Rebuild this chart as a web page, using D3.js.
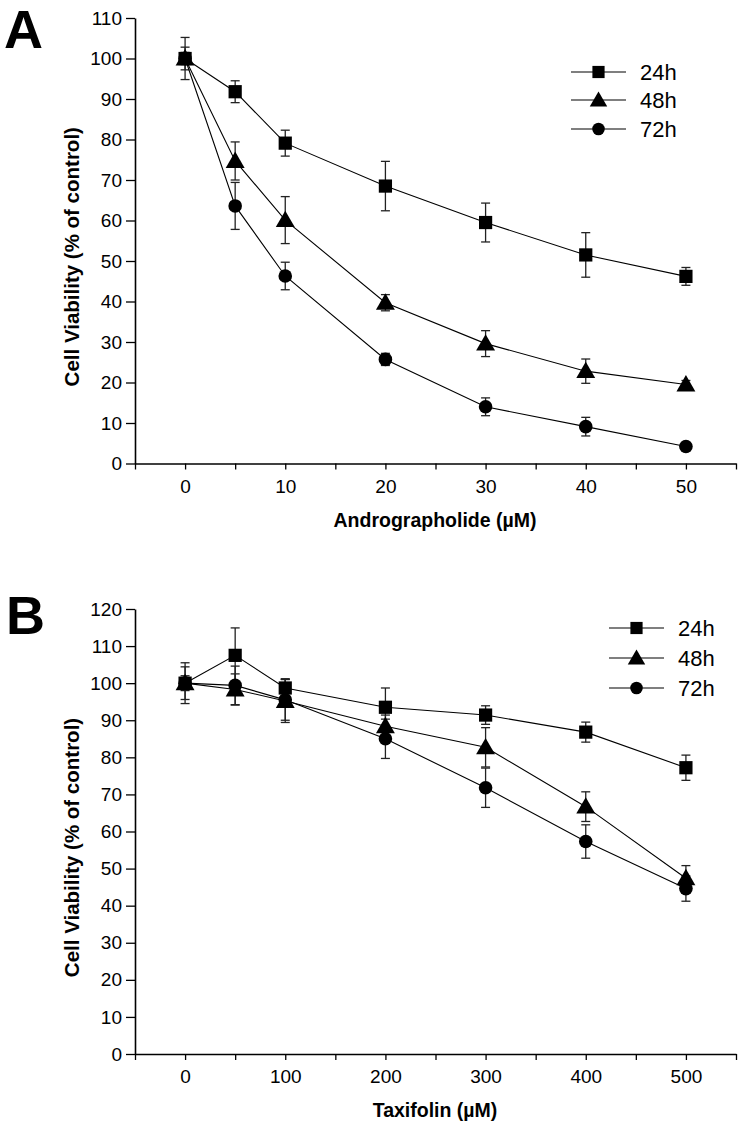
<!DOCTYPE html>
<html><head><meta charset="utf-8">
<script src="https://cdn.jsdelivr.net/npm/d3@7/dist/d3.min.js"></script>
<style>body{margin:0;background:#fff}svg{display:block}text{font-family:"Liberation Sans",Arial,sans-serif}</style>
</head><body><svg id="c" width="739" height="1128"></svg>
<script>
// Panel A: Andrographolide
const dosesA = [0, 5, 10, 20, 30, 40, 50];
const a24 = [100, 91.8, 79.1, 68.5, 59.5, 51.5, 46.2];
const a24err = [2.8, 2.7, 3.2, 6.1, 4.8, 5.5, 2.2];
const a48 = [100, 74.7, 60.1, 39.7, 29.6, 22.8, 19.5];
const a48err = [5.2, 4.7, 5.8, 2.0, 3.2, 3.0, 1.0];
const a72 = [100, 63.6, 46.3, 25.7, 14.0, 9.1, 4.2];
const a72err = [1.5, 5.8, 3.4, 1.5, 2.2, 2.3, 0.8];
const ticksXA = [0, 10, 20, 30, 40, 50];
const minorXA = [-5, 5, 15, 25, 35, 45, 55];
const ticksYA = [0, 10, 20, 30, 40, 50, 60, 70, 80, 90, 100, 110];

// Panel B: Taxifolin
const dosesB = [0, 50, 100, 200, 300, 400, 500];
const b24 = [100, 107.5, 98.7, 93.5, 91.4, 86.8, 77.2];
const b24err = [4.4, 7.4, 2.5, 5.2, 2.5, 2.7, 3.4];
const b48 = [100, 98.3, 95.2, 88.4, 82.7, 66.7, 47.4];
const b48err = [5.5, 4.2, 5.8, 3.0, 5.3, 4.0, 3.4];
const b72 = [100, 99.4, 95.5, 85.0, 71.8, 57.3, 44.6];
const b72err = [2.0, 5.2, 5.5, 5.3, 5.3, 4.5, 3.4];
const ticksXB = [0, 100, 200, 300, 400, 500];
const minorXB = [-50, 50, 150, 250, 350, 450, 550];
const ticksYB = [0, 10, 20, 30, 40, 50, 60, 70, 80, 90, 100, 110, 120];

const seriesNames = ["24h", "48h", "72h"];
const symbols = [d3.symbolSquare, d3.symbolTriangle, d3.symbolCircle];
const symSizes = [175, 155, 145];

const svg = d3.select("#c");

function panel(cfg) {
  const g = svg.append("g");
  const x = d3.scaleLinear().domain(cfg.xdom).range([135, 736]);
  const y = d3.scaleLinear().domain(cfg.ydom).range([cfg.y0, cfg.ytop]);

  // axes
  const yAxis = d3.axisLeft(y).tickValues(cfg.yticks).tickSize(9).tickPadding(4).tickSizeOuter(0);
  const ya = g.append("g").attr("transform", "translate(135,0)").call(yAxis);
  ya.attr("font-family", null).attr("font-size", null);
  ya.select(".domain").attr("stroke-width", 1.6);
  ya.selectAll(".tick line").attr("stroke-width", 1.3);
  ya.selectAll("text").attr("font-size", 19).attr("fill", "#000");

  const xAxis = d3.axisBottom(x).tickValues(cfg.xticks).tickSize(6).tickPadding(10).tickSizeOuter(0);
  const xa = g.append("g").attr("transform", `translate(0,${cfg.y0})`).call(xAxis);
  xa.attr("font-family", null).attr("font-size", null);
  xa.select(".domain").attr("stroke-width", 1.6);
  xa.selectAll(".tick line").attr("stroke-width", 1.3);
  xa.selectAll("text").attr("font-size", 19).attr("fill", "#000");
  const xm = d3.axisBottom(x).tickValues(cfg.xminor).tickSize(6).tickFormat("").tickSizeOuter(0);
  const xma = g.append("g").attr("transform", `translate(0,${cfg.y0})`).call(xm);
  xma.select(".domain").remove();
  xma.selectAll(".tick line").attr("stroke-width", 1.3);

  // titles
  g.append("text").attr("x", 435).attr("y", cfg.y0 + 63).attr("text-anchor", "middle")
    .attr("font-size", 19.5).attr("font-weight", "bold").text(cfg.xtitle);
  g.append("text").attr("transform", `translate(79,${(cfg.y0 + cfg.ytop) / 2 + 16}) rotate(-90)`)
    .attr("text-anchor", "middle").attr("font-size", 20.5).attr("font-weight", "bold")
    .text("Cell Viability (% of control)");
  g.append("text").attr("x", cfg.lx).attr("y", cfg.ly).attr("font-size", 54).attr("font-weight", "bold").text(cfg.label);

  const series = cfg.series;
  // error bars
  series.forEach((s, i) => {
    const eg = g.append("g").attr("stroke", "#222").attr("stroke-width", 1.3);
    cfg.doses.forEach((d, j) => {
      const cx = x(d), v = s.v[j], e = s.e[j];
      eg.append("line").attr("x1", cx).attr("x2", cx).attr("y1", y(v - e)).attr("y2", y(v + e));
      eg.append("line").attr("x1", cx - 4.5).attr("x2", cx + 4.5).attr("y1", y(v - e)).attr("y2", y(v - e));
      eg.append("line").attr("x1", cx - 4.5).attr("x2", cx + 4.5).attr("y1", y(v + e)).attr("y2", y(v + e));
    });
  });
  // lines
  series.forEach((s, i) => {
    const line = d3.line().x((d, j) => x(cfg.doses[j])).y(d => y(d));
    g.append("path").datum(s.v).attr("d", line).attr("fill", "none").attr("stroke", "#000").attr("stroke-width", 1.1);
  });
  // markers
  series.forEach((s, i) => {
    g.selectAll(null).data(s.v).enter().append("path")
      .attr("transform", (d, j) => `translate(${x(cfg.doses[j])},${y(d) + (i === 1 ? 1.5 : 0)})`)
      .attr("d", d3.symbol().type(symbols[i]).size(symSizes[i])).attr("fill", "#000");
  });
  // legend
  seriesNames.forEach((n, i) => {
    const ly = cfg.legY[i];
    g.append("line").attr("x1", cfg.legX).attr("x2", cfg.legX + 55).attr("y1", ly).attr("y2", ly)
      .attr("stroke", "#555").attr("stroke-width", 1.3);
    g.append("path").attr("transform", `translate(${cfg.legX + 27.5},${ly + (i === 1 ? 1.5 : 0)})`)
      .attr("d", d3.symbol().type(symbols[i]).size(symSizes[i] * 0.85)).attr("fill", "#000");
    g.append("text").attr("x", cfg.legX + 69).attr("y", ly + 7.5).attr("font-size", 22).text(n);
  });
}

panel({
  xdom: [-5, 55], ydom: [0, 110], y0: 463.5, ytop: 18,
  xticks: ticksXA, xminor: minorXA, yticks: ticksYA, doses: dosesA,
  xtitle: "Andrographolide (µM)", label: "A", lx: 4, ly: 48,
  series: [{v: a24, e: a24err}, {v: a48, e: a48err}, {v: a72, e: a72err}],
  legX: 571, legY: [72, 100, 129]
});
panel({
  xdom: [-50, 550], ydom: [0, 120], y0: 1054, ytop: 609,
  xticks: ticksXB, xminor: minorXB, yticks: ticksYB, doses: dosesB,
  xtitle: "Taxifolin (µM)", label: "B", lx: 6, ly: 634,
  series: [{v: b24, e: b24err}, {v: b48, e: b48err}, {v: b72, e: b72err}],
  legX: 609, legY: [628, 658, 688]
});
</script></body></html>
